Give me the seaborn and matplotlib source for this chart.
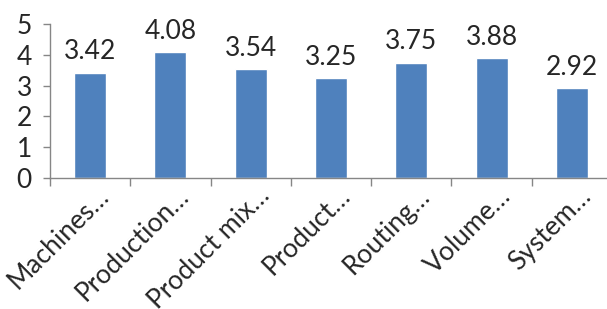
import matplotlib
matplotlib.use("Agg")
import matplotlib.pyplot as plt
import matplotlib.transforms as mtransforms
import seaborn as sns
import pandas as pd

# Data
categories = ['Machines…', 'Production…', 'Product mix…', 'Product…',
              'Routing…', 'Volume…', 'System…']
scores = [3.42, 4.08, 3.54, 3.25, 3.75, 3.88, 2.92]
y_ticks = [0, 1, 2, 3, 4, 5]

sns.set_style("white")
plt.rcParams['font.family'] = ['Lato', 'DejaVu Sans']

df = pd.DataFrame({'category': categories, 'score': scores})

fig = plt.figure(figsize=(6.07, 3.09), dpi=100)
ax = fig.add_axes([50 / 607, 1 - 178 / 309, 562 / 607, 154 / 309])

sns.barplot(data=df, x='category', y='score', color='#4F81BD', width=0.4,
            saturation=1, ax=ax)

ax.set_ylim(0, 5)
ax.set_xlim(-0.5, len(categories) - 0.5)
ax.set_yticks(y_ticks)
ax.set_yticklabels([str(t) for t in y_ticks], fontsize=19)
ax.set_xlabel('')
ax.set_ylabel('')

# category boundary ticks on the x axis
ax.set_xticks([i - 0.5 for i in range(len(categories) + 1)], minor=False)
ax.set_xticklabels([''] * (len(categories) + 1))
ax.tick_params(axis='x', length=6, color='#868686', width=1, direction='out', bottom=True)
ax.tick_params(axis='y', length=5, color='#868686', width=1, direction='out', left=True, pad=8)

offset = mtransforms.ScaledTranslation(15 / 100, -14 / 100, fig.dpi_scale_trans)
for i, lab in enumerate(categories):
    ax.text(i, 0, lab, rotation=45, ha='right', va='center', rotation_mode='anchor',
            fontsize=19, transform=ax.get_xaxis_transform() + offset)

for i, v in enumerate(scores):
    ax.text(i, v + 0.27, f'{v:.2f}', ha='center', va='bottom', fontsize=19, clip_on=False)

for side in ['top', 'right']:
    ax.spines[side].set_visible(False)
for side in ['left', 'bottom']:
    ax.spines[side].set_color('#868686')
    ax.spines[side].set_linewidth(1)

fig.savefig('out.png', dpi=100)
